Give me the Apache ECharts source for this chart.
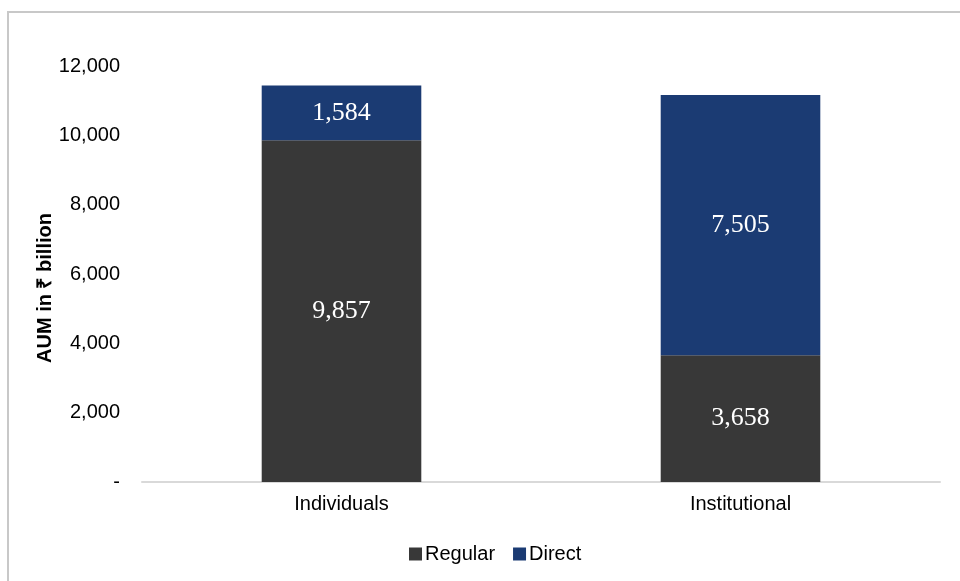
<!DOCTYPE html>
<html>
<head>
<meta charset="utf-8">
<style>
    html, body { margin: 0; padding: 0; background: #ffffff; }
    #chart { width: 960px; height: 581px; }
</style>
<script src="https://cdn.jsdelivr.net/npm/echarts@6/dist/echarts.min.js"></script>
</head>
<body>
<div id="chart"></div>
<script>
// 类别
const categories = ["Individuals", "Institutional"];
// 各系列数值（₹ billion）
const regularValues = [9857, 3658];
const directValues = [1584, 7505];
// y轴刻度
const yTicks = [0, 2000, 4000, 6000, 8000, 10000, 12000];

const chartInstance = echarts.init(document.getElementById("chart"));

const labelStyle = {
    show: true,
    position: "inside",
    color: "#ffffff",
    fontFamily: "Liberation Serif, Times New Roman, serif",
    fontSize: 26,
    formatter: p => p.value.toLocaleString("en-US"),
};

const option = {
    animation: false,
    textStyle: {
        fontFamily: "Liberation Sans, Arial, sans-serif",
    },
    graphic: [
        // 外边框
        {
            type: "rect",
            shape: { x: 8, y: 12, width: 1000, height: 700 },
            style: { fill: "none", stroke: "#c8c8c8", lineWidth: 2 },
            silent: true,
        },
        // y轴标题
        {
            type: "text",
            x: 45,
            y: 288,
            rotation: Math.PI / 2,
            style: {
                text: "AUM in ₹ billion",
                fill: "#000000",
                font: "bold 20px 'Liberation Sans', Arial, sans-serif",
                align: "center",
                verticalAlign: "middle",
            },
            silent: true,
        },
    ],
    grid: {
        left: 142,
        right: 20,
        top: 66,
        bottom: 99,
    },
    legend: {
        top: 539,
        left: 404,
        itemWidth: 13,
        itemHeight: 13,
        itemGap: 18,
        icon: "rect",
        textStyle: { fontSize: 20, color: "#000000", padding: [0, 0, 0, -2] },
        data: ["Regular", "Direct"],
    },
    xAxis: {
        type: "category",
        data: categories,
        axisLine: { lineStyle: { color: "#d9d9d9", width: 2 } },
        axisTick: { show: false },
        axisLabel: { color: "#000000", fontSize: 20, margin: 12 },
    },
    yAxis: {
        type: "value",
        min: yTicks[0],
        max: yTicks[yTicks.length - 1],
        interval: 2000,
        splitLine: { show: false },
        axisLine: { show: false },
        axisTick: { show: false },
        axisLabel: {
            color: "#000000",
            fontSize: 20,
            margin: 22,
            formatter: v => (v === 0 ? "-" : v.toLocaleString("en-US")),
        },
    },
    series: [
        {
            name: "Regular",
            type: "bar",
            stack: "aum",
            barWidth: "40%",
            data: regularValues,
            itemStyle: { color: "#383838" },
            label: labelStyle,
        },
        {
            name: "Direct",
            type: "bar",
            stack: "aum",
            data: directValues,
            itemStyle: { color: "#1b3b73" },
            label: labelStyle,
        },
    ],
};
chartInstance.setOption(option);
</script>
</body>
</html>
